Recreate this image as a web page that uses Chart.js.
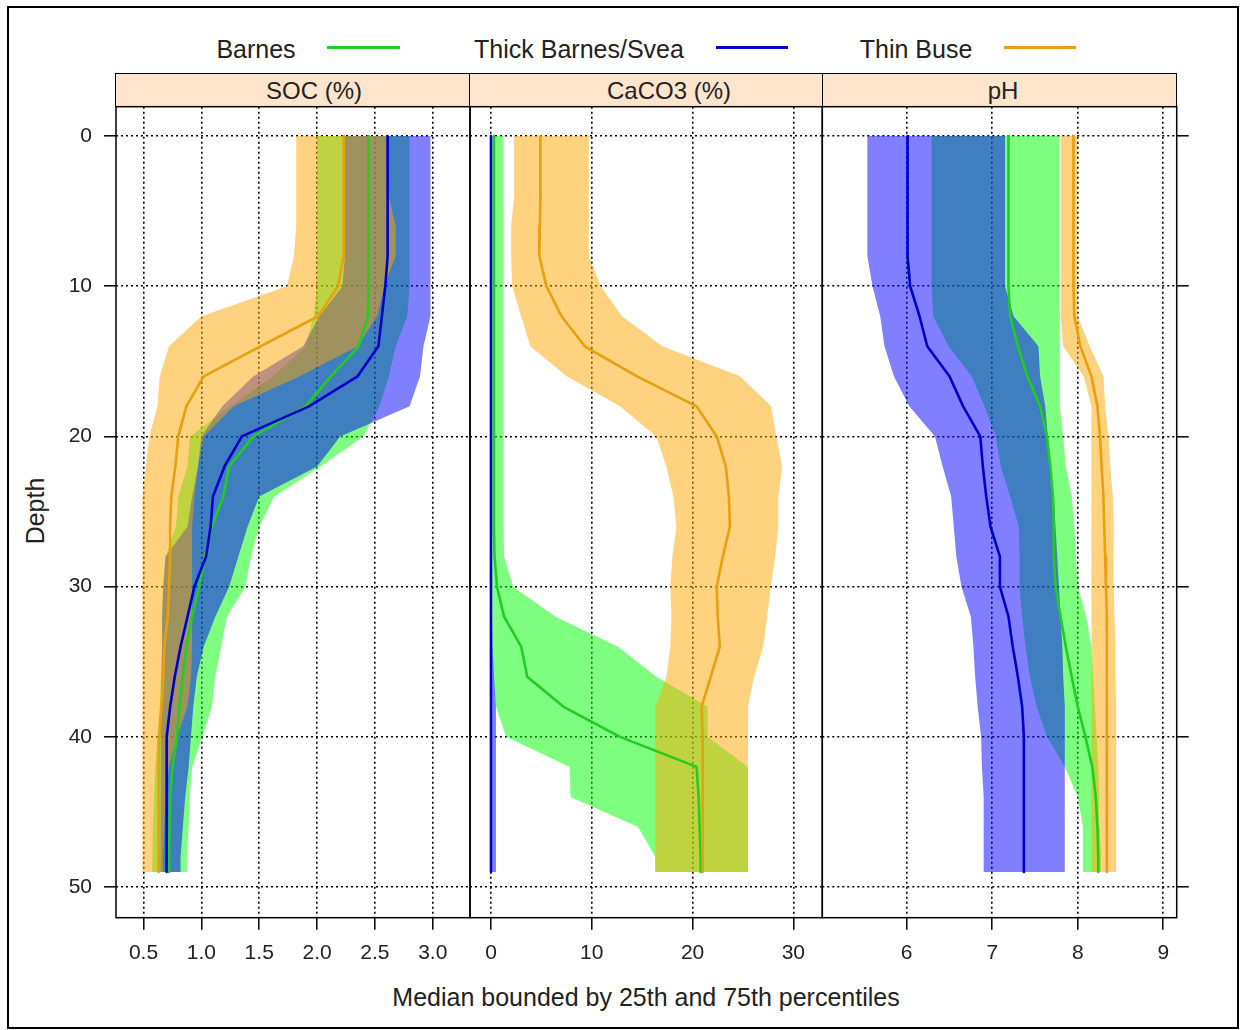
<!DOCTYPE html>
<html>
<head>
<meta charset="utf-8">
<title>Depth profiles</title>
<script src="https://cdn.jsdelivr.net/npm/chart.js@4.4.1/dist/chart.umd.min.js"></script>
<style>
  body { margin: 0; background: #fff; font-family: 'Liberation Sans', Arial, sans-serif; color: #222; }
  #page { position: relative; width: 1243px; height: 1030px; overflow: hidden; background: #fff; }
  #frame { position: absolute; left: 7px; top: 6px; width: 1232px; height: 1023px; border: 2px solid #000; box-sizing: border-box; }
  .txt { position: absolute; white-space: nowrap; line-height: 1; }
  .legend-line { position: absolute; height: 3px; }
  .strip { position: absolute; background: #ffe5cc; border: 1.5px solid #000; box-sizing: border-box; }
  canvas { position: absolute; }
</style>
</head>
<body>
<div id="page">
  <div id="frame"></div>
</div>
<script>
// depth (cm) of every sampled slab
const depths = [0, 2, 4, 6, 8, 10, 12, 14, 16, 18, 20, 22, 24, 26, 28, 30, 32, 34, 36, 38, 40, 42, 44, 46, 48, 49];
const depthTicks = [0, 10, 20, 30, 40, 50];

const groupNames = ['Barnes', 'Thick Barnes/Svea', 'Thin Buse'];
const panelTitles = ['SOC (%)', 'CaCO3 (%)', 'pH'];

const socTicks = [0.5, 1.0, 1.5, 2.0, 2.5, 3.0];
const caco3Ticks = [0, 10, 20, 30];
const phTicks = [6, 7, 8, 9];

// SOC (%)
const socBarnesP25 = [2.00, 2.00, 2.00, 2.00, 2.00, 2.00, 1.97, 1.90, 1.62, 1.25, 0.90, 0.88, 0.80, 0.78, 0.69, 0.67, 0.66, 0.66, 0.65, 0.64, 0.62, 0.60, 0.59, 0.58, 0.575, 0.575];
const socBarnesMed = [2.445, 2.445, 2.445, 2.445, 2.445, 2.445, 2.44, 2.36, 2.12, 1.90, 1.45, 1.24, 1.19, 1.09, 1.03, 0.98, 0.92, 0.87, 0.84, 0.81, 0.79, 0.75, 0.73, 0.725, 0.72, 0.72];
const socBarnesP75 = [2.80, 2.80, 2.80, 2.80, 2.80, 2.80, 2.78, 2.68, 2.62, 2.54, 2.40, 2.03, 1.63, 1.50, 1.43, 1.38, 1.22, 1.17, 1.12, 1.09, 1.01, 0.92, 0.90, 0.89, 0.875, 0.875];
const socThickP25 = [2.24, 2.24, 2.24, 2.24, 2.24, 2.22, 2.02, 1.88, 1.45, 1.18, 1.00, 0.97, 0.92, 0.88, 0.69, 0.67, 0.66, 0.66, 0.655, 0.65, 0.65, 0.645, 0.645, 0.645, 0.645, 0.645];
const socThickMed = [2.61, 2.61, 2.61, 2.61, 2.61, 2.59, 2.56, 2.53, 2.35, 1.93, 1.35, 1.20, 1.10, 1.08, 1.04, 0.94, 0.88, 0.82, 0.77, 0.73, 0.70, 0.70, 0.70, 0.70, 0.70, 0.70];
const socThickP75 = [2.98, 2.98, 2.98, 2.98, 2.98, 2.98, 2.98, 2.92, 2.89, 2.80, 2.20, 2.00, 1.50, 1.40, 1.32, 1.24, 1.12, 1.02, 0.96, 0.93, 0.91, 0.89, 0.86, 0.84, 0.82, 0.82];
const socThinP25 = [1.82, 1.82, 1.82, 1.82, 1.80, 1.74, 1.00, 0.72, 0.64, 0.62, 0.55, 0.52, 0.49, 0.49, 0.49, 0.49, 0.49, 0.49, 0.49, 0.49, 0.49, 0.49, 0.49, 0.49, 0.49, 0.49];
const socThinMed = [2.23, 2.23, 2.23, 2.23, 2.23, 2.18, 2.01, 1.51, 1.02, 0.87, 0.80, 0.775, 0.74, 0.73, 0.73, 0.72, 0.71, 0.68, 0.67, 0.655, 0.635, 0.63, 0.63, 0.63, 0.63, 0.63];
const socThinP75 = [2.60, 2.60, 2.62, 2.68, 2.68, 2.58, 2.52, 2.35, 1.85, 1.28, 1.02, 0.97, 0.94, 0.92, 0.92, 0.92, 0.92, 0.92, 0.91, 0.88, 0.79, 0.72, 0.69, 0.68, 0.67, 0.67];

// CaCO3 (%)
const caco3BarnesP25 = [0, 0, 0, 0, 0, 0, 0, 0, 0, 0, 0, 0, 0, 0, 0, 0, 0.05, 0.1, 0.2, 0.5, 1.5, 7.8, 7.9, 14.6, 16.3, 16.3];
const caco3BarnesMed = [0.3, 0.3, 0.3, 0.3, 0.3, 0.3, 0.3, 0.3, 0.3, 0.3, 0.3, 0.3, 0.3, 0.3, 0.35, 0.6, 1.3, 3.0, 3.6, 7.2, 12.8, 20.4, 20.6, 20.7, 20.8, 20.8];
const caco3BarnesP75 = [1.25, 1.25, 1.25, 1.25, 1.25, 1.25, 1.25, 1.25, 1.25, 1.25, 1.25, 1.25, 1.25, 1.25, 1.3, 2.2, 6.4, 12.6, 16.4, 21.5, 21.5, 25.5, 25.5, 25.5, 25.5, 25.5];
const caco3ThickP25 = [-0.1, -0.1, -0.1, -0.1, -0.1, -0.1, -0.1, -0.1, -0.1, -0.1, -0.1, -0.1, -0.1, -0.1, -0.1, -0.1, -0.1, -0.1, -0.1, -0.1, -0.1, -0.1, -0.1, -0.1, -0.1, -0.1];
const caco3ThickMed = [0, 0, 0, 0, 0, 0, 0, 0, 0, 0, 0, 0, 0, 0, 0, 0, 0, 0, 0, 0, 0, 0, 0, 0, 0, 0];
const caco3ThickP75 = [0.1, 0.1, 0.1, 0.1, 0.1, 0.1, 0.1, 0.1, 0.1, 0.1, 0.1, 0.1, 0.1, 0.1, 0.1, 0.1, 0.1, 0.15, 0.3, 0.5, 0.5, 0.5, 0.5, 0.5, 0.5, 0.5];
const caco3ThinP25 = [2.3, 2.3, 2.3, 2.0, 2.0, 2.1, 3.0, 3.9, 7.5, 12.8, 16.4, 17.4, 18.1, 18.4, 18.0, 17.8, 17.9, 17.8, 17.4, 16.3, 16.3, 16.3, 16.3, 16.3, 16.3, 16.3];
const caco3ThinMed = [4.9, 4.9, 4.9, 4.85, 4.8, 5.5, 7.0, 9.3, 14.5, 20.4, 22.4, 23.3, 23.6, 23.7, 23.0, 22.4, 22.5, 22.7, 21.8, 20.9, 21.0, 21.0, 21.0, 21.0, 21.0, 21.0];
const caco3ThinP75 = [9.7, 9.7, 9.7, 9.7, 9.7, 10.9, 13.0, 17.0, 24.7, 27.8, 28.3, 28.9, 28.5, 28.5, 28.2, 27.75, 27.4, 27.0, 26.1, 25.5, 25.5, 25.5, 25.5, 25.5, 25.5, 25.5];

// pH
const phBarnesP25 = [6.29, 6.29, 6.29, 6.29, 6.29, 6.29, 6.31, 6.49, 6.76, 6.91, 7.04, 7.10, 7.21, 7.31, 7.32, 7.32, 7.35, 7.39, 7.44, 7.52, 7.64, 7.85, 8.00, 8.06, 8.06, 8.06];
const phBarnesMed = [7.19, 7.19, 7.19, 7.19, 7.19, 7.19, 7.21, 7.30, 7.41, 7.56, 7.64, 7.68, 7.71, 7.72, 7.72, 7.74, 7.80, 7.86, 7.93, 8.00, 8.09, 8.17, 8.21, 8.23, 8.24, 8.24];
const phBarnesP75 = [7.79, 7.79, 7.79, 7.79, 7.79, 7.79, 7.79, 7.79, 7.79, 7.79, 7.83, 7.86, 7.93, 7.96, 7.98, 8.00, 8.10, 8.16, 8.18, 8.20, 8.22, 8.24, 8.25, 8.26, 8.27, 8.27];
const phThickP25 = [5.54, 5.54, 5.54, 5.54, 5.54, 5.60, 5.69, 5.74, 5.85, 6.03, 6.33, 6.42, 6.52, 6.55, 6.58, 6.64, 6.75, 6.78, 6.80, 6.83, 6.87, 6.88, 6.90, 6.90, 6.90, 6.90];
const phThickMed = [6.01, 6.01, 6.01, 6.01, 6.01, 6.04, 6.15, 6.24, 6.50, 6.66, 6.86, 6.89, 6.93, 6.98, 7.09, 7.09, 7.19, 7.24, 7.30, 7.35, 7.37, 7.37, 7.37, 7.37, 7.37, 7.37];
const phThickP75 = [7.15, 7.15, 7.15, 7.15, 7.15, 7.15, 7.25, 7.54, 7.56, 7.62, 7.65, 7.68, 7.72, 7.74, 7.76, 7.78, 7.80, 7.82, 7.83, 7.84, 7.85, 7.85, 7.85, 7.85, 7.85, 7.85];
const phThinP25 = [7.80, 7.80, 7.80, 7.80, 7.80, 7.80, 7.80, 7.83, 8.07, 8.16, 8.16, 8.16, 8.16, 8.16, 8.16, 8.16, 8.16, 8.16, 8.16, 8.16, 8.16, 8.16, 8.16, 8.16, 8.16, 8.16];
const phThinMed = [7.95, 7.95, 7.95, 7.95, 7.95, 7.95, 7.96, 8.03, 8.16, 8.23, 8.26, 8.28, 8.30, 8.31, 8.32, 8.33, 8.34, 8.34, 8.34, 8.34, 8.34, 8.34, 8.34, 8.34, 8.34, 8.34];
const phThinP75 = [7.99, 7.99, 7.99, 7.99, 7.99, 7.99, 8.00, 8.14, 8.30, 8.32, 8.36, 8.38, 8.41, 8.42, 8.42, 8.42, 8.43, 8.44, 8.44, 8.45, 8.45, 8.45, 8.45, 8.45, 8.45, 8.45];

const lineColors = ['#22cc22', '#0000cc', '#e6a010'];
const bandColors = ['rgba(0,255,0,0.5)', 'rgba(0,0,255,0.5)', 'rgba(255,165,0,0.5)'];

// layout of the three panels (page pixels)
const panelEdges = [116, 470, 822.3, 1176.7];
const panelTop = 106.7;
const panelBottom = 917.7;
const canvasTop = 96;
const canvasBottom = 980;

const page = document.getElementById('page');

function addText(text, cx, cy, size, extra) {
  const el = document.createElement('div');
  el.className = 'txt';
  el.textContent = text;
  el.style.fontSize = size + 'px';
  el.style.left = cx + 'px';
  el.style.top = cy + 'px';
  el.style.transform = 'translate(-50%, -50%)' + (extra || '');
  page.appendChild(el);
  return el;
}

// legend: name then a short line
const legendText = [256, 579, 916];
const legendLine = [[327, 400], [716, 788], [1004, 1076]];
groupNames.forEach((name, i) => {
  addText(name, legendText[i], 49, 25);
  const ln = document.createElement('div');
  ln.className = 'legend-line';
  ln.style.left = legendLine[i][0] + 'px';
  ln.style.width = (legendLine[i][1] - legendLine[i][0]) + 'px';
  ln.style.top = '46px';
  ln.style.background = lineColors[i];
  page.appendChild(ln);
});

// strips above the panels
const stripLabelX = [314, 669, 1003];
panelTitles.forEach((t, i) => {
  const s = document.createElement('div');
  s.className = 'strip';
  s.style.left = (panelEdges[i] - 0.75) + 'px';
  s.style.width = (panelEdges[i + 1] - panelEdges[i] + 1.5) + 'px';
  s.style.top = '73px';
  s.style.height = (panelTop - 73 + 0.75) + 'px';
  page.appendChild(s);
});
panelTitles.forEach((t, i) => addText(t, stripLabelX[i], 90.5, 24));

addText('Depth', 35, 511, 25, ' rotate(-90deg)');
addText('Median bounded by 25th and 75th percentiles', 646, 997, 25);

Chart.defaults.font.family = "'Liberation Sans', Arial, sans-serif";
Chart.defaults.font.size = 21;
Chart.defaults.color = '#222';

const panelFrame = {
  id: 'panelFrame',
  afterDraw(chart) {
    const { ctx, chartArea: a } = chart;
    ctx.save();
    ctx.strokeStyle = '#000';
    ctx.lineWidth = 1.5;
    ctx.strokeRect(a.left, a.top, a.right - a.left, a.bottom - a.top);
    ctx.restore();
  }
};

function bandPoints(lo, hi) {
  const pts = depths.map((d, i) => ({ x: lo[i], y: d }));
  for (let i = depths.length - 1; i >= 0; i--) pts.push({ x: hi[i], y: depths[i] });
  return pts;
}

function medianPoints(med) {
  return depths.map((d, i) => ({ x: med[i], y: d }));
}

function panelDatasets(groups) {
  const sets = [];
  groups.forEach((g, i) => {
    sets.push({
      label: groupNames[i] + ' 25-75%',
      data: bandPoints(g[0], g[2]),
      fill: 'shape',
      backgroundColor: bandColors[i],
      borderColor: 'transparent',
      borderWidth: 0,
      pointRadius: 0,
      order: 6 - i,
    });
    sets.push({
      label: groupNames[i],
      data: medianPoints(g[1]),
      fill: false,
      borderColor: lineColors[i],
      borderWidth: 2.6,
      borderJoinStyle: 'round',
      pointRadius: 0,
      order: 3 - i,
    });
  });
  return sets;
}

const gridBase = { color: '#000', lineWidth: 1.6, tickLength: 12, tickWidth: 1.5, tickColor: '#000', tickBorderDash: [] };
const dotted = { display: false, dash: [2, 3] };

// keep the plot area exactly where the panel sits: no extra label padding
function noPad(s) {
  s.paddingTop = 0;
  s.paddingBottom = 0;
  s.paddingLeft = 0;
  s.paddingRight = 0;
}

function makePanel(idx, groups, xMin, xMax, xTicks, fmt) {
  const leftW = idx === 0 ? 116 : 0;
  const rightW = idx === 2 ? 12 : 0;
  const left = panelEdges[idx];
  const right = panelEdges[idx + 1];
  const cLeft = Math.max(0, Math.floor(left - leftW - 10));
  const cWidth = Math.ceil(right + rightW + 10 - cLeft);
  const padLeft = left - leftW - cLeft;
  const padRight = cLeft + cWidth - right - rightW;
  const cHeight = canvasBottom - canvasTop;

  const canvas = document.createElement('canvas');
  canvas.width = cWidth;
  canvas.height = cHeight;
  canvas.style.left = cLeft + 'px';
  canvas.style.top = canvasTop + 'px';
  canvas.style.width = cWidth + 'px';
  canvas.style.height = cHeight + 'px';
  page.appendChild(canvas);

  return new Chart(canvas, {
    type: 'line',
    data: { datasets: panelDatasets(groups) },
    plugins: [panelFrame],
    options: {
      responsive: false,
      animation: false,
      events: [],
      layout: { padding: { left: padLeft, right: padRight, top: panelTop - canvasTop, bottom: 0 } },
      plugins: { legend: { display: false }, tooltip: { enabled: false } },
      scales: {
        x: {
          type: 'linear',
          min: xMin,
          max: xMax,
          z: 1,
          grid: gridBase,
          border: dotted,
          ticks: { padding: 11, autoSkip: false, maxRotation: 0, callback: fmt },
          afterBuildTicks: (s) => { s.ticks = xTicks.map((v) => ({ value: v })); },
          afterFit: (s) => { s.height = canvasBottom - panelBottom; noPad(s); },
        },
        y: {
          type: 'linear',
          position: idx === 2 ? 'right' : 'left',
          reverse: true,
          min: -1.95,
          max: 52.04,
          z: 1,
          grid: Object.assign({}, gridBase, { drawTicks: idx !== 1 }),
          border: dotted,
          ticks: { display: idx === 0, padding: 12 },
          afterBuildTicks: (s) => { s.ticks = depthTicks.map((v) => ({ value: v })); },
          afterFit: (s) => { s.width = leftW || rightW; noPad(s); },
        },
      },
    },
  });
}

makePanel(0, [
  [socBarnesP25, socBarnesMed, socBarnesP75],
  [socThickP25, socThickMed, socThickP75],
  [socThinP25, socThinMed, socThinP75],
], 0.262, 3.322, socTicks, (v) => Number(v).toFixed(1));

makePanel(1, [
  [caco3BarnesP25, caco3BarnesMed, caco3BarnesP75],
  [caco3ThickP25, caco3ThickMed, caco3ThickP75],
  [caco3ThinP25, caco3ThinMed, caco3ThinP75],
], -2.08, 32.87, caco3Ticks, (v) => String(v));

makePanel(2, [
  [phBarnesP25, phBarnesMed, phBarnesP75],
  [phThickP25, phThickMed, phThickP75],
  [phThinP25, phThinMed, phThinP75],
], 5.013, 9.157, phTicks, (v) => String(v));
</script>
</body>
</html>
